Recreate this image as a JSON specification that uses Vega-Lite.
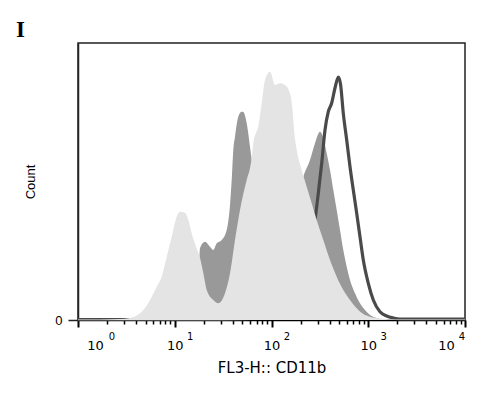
{
  "$schema": "https://vega.github.io/schema/vega-lite/v6.json",
  "width": 387,
  "height": 277,
  "autosize": {"type": "none"},
  "padding": {"left": 78, "top": 43, "right": 13, "bottom": 74},
  "background": "white",
  "config": {"view": {"stroke": "#222", "strokeWidth": 1.5}},
  "title": {"text": "I", "anchor": "start", "frame": "group", "font": "Liberation Serif", "fontSize": 23, "fontWeight": "bold", "color": "#000", "dx": -62, "dy": 22, "offset": 5, "baseline": "alphabetic"},
  "datasets": {
    "L": [
      {"x": 1, "count": 0.5}, {"x": 1.688, "count": 0.5}, {"x": 2.717, "count": 1}, {"x": 3.447, "count": 2},
      {"x": 4.373, "count": 6.7}, {"x": 4.927, "count": 12}, {"x": 5.548, "count": 20}, {"x": 6.507, "count": 33.3},
      {"x": 7.329, "count": 43.3}, {"x": 8.256, "count": 63.3}, {"x": 9.3, "count": 83.3}, {"x": 10.47, "count": 103.3},
      {"x": 11.33, "count": 108.3}, {"x": 12.76, "count": 107.3}, {"x": 13.81, "count": 100}, {"x": 14.97, "count": 86.7},
      {"x": 16.58, "count": 73.3}, {"x": 18.24, "count": 62}, {"x": 19.73, "count": 47}, {"x": 21.39, "count": 30},
      {"x": 25.03, "count": 20}, {"x": 28.2, "count": 16.7}, {"x": 33.07, "count": 26.7}, {"x": 37.25, "count": 46.7},
      {"x": 41.95, "count": 80}, {"x": 47.24, "count": 110}, {"x": 55.42, "count": 140}, {"x": 59.94, "count": 152},
      {"x": 62.42, "count": 162}, {"x": 64.85, "count": 177}, {"x": 69.15, "count": 187}, {"x": 73.04, "count": 193.3},
      {"x": 79.21, "count": 216.7}, {"x": 85.67, "count": 240}, {"x": 96.5, "count": 248.3}, {"x": 108.7, "count": 235},
      {"x": 122.4, "count": 236.7}, {"x": 137.9, "count": 235}, {"x": 155.3, "count": 226.7}, {"x": 162.9, "count": 215},
      {"x": 172.9, "count": 185}, {"x": 182.2, "count": 170}, {"x": 205.2, "count": 150}, {"x": 231.1, "count": 133.3},
      {"x": 260.3, "count": 116.7}, {"x": 293.2, "count": 100}, {"x": 343.1, "count": 80}, {"x": 402.4, "count": 60},
      {"x": 471.9, "count": 43.3}, {"x": 552.2, "count": 30}, {"x": 647.7, "count": 20}, {"x": 759.6, "count": 11.7},
      {"x": 888.9, "count": 6}, {"x": 1043, "count": 3.3}, {"x": 1322, "count": 1.5}, {"x": 1890, "count": 0.5},
      {"x": 10000, "count": 0.5}
    ],
    "D": [
      {"x": 1, "count": 0.5}, {"x": 17.39, "count": 0.5}, {"x": 18.24, "count": 72}, {"x": 20.55, "count": 78.3},
      {"x": 23.13, "count": 73.3}, {"x": 25.03, "count": 70}, {"x": 27.14, "count": 76.7}, {"x": 30.57, "count": 80},
      {"x": 34.43, "count": 90}, {"x": 37.25, "count": 115}, {"x": 38.78, "count": 140}, {"x": 40.29, "count": 170},
      {"x": 41.95, "count": 183.3}, {"x": 45.37, "count": 203.3}, {"x": 49.2, "count": 208.3}, {"x": 51.11, "count": 208},
      {"x": 55.42, "count": 196.7}, {"x": 59.94, "count": 173.3}, {"x": 62.42, "count": 160}, {"x": 67.53, "count": 135},
      {"x": 79.77, "count": 105}, {"x": 96.5, "count": 85}, {"x": 122.4, "count": 80}, {"x": 155.3, "count": 95},
      {"x": 183.5, "count": 120}, {"x": 213.2, "count": 143.3}, {"x": 250, "count": 160}, {"x": 281.6, "count": 176.7},
      {"x": 317.2, "count": 188.3}, {"x": 343.1, "count": 182}, {"x": 371.9, "count": 166.7}, {"x": 402.4, "count": 150},
      {"x": 435.3, "count": 130}, {"x": 471.9, "count": 110}, {"x": 510.5, "count": 90}, {"x": 552.2, "count": 70},
      {"x": 598.8, "count": 53.3}, {"x": 647.7, "count": 40}, {"x": 729.5, "count": 26.7}, {"x": 821.6, "count": 16.7},
      {"x": 925.5, "count": 10}, {"x": 1043, "count": 5}, {"x": 1174, "count": 2.5}, {"x": 1490, "count": 0.5},
      {"x": 10000, "count": 0.5}
    ],
    "K": [
      {"x": 1, "count": 0.5}, {"x": 18.24, "count": 0.5}, {"x": 47.24, "count": 1}, {"x": 96.5, "count": 4},
      {"x": 155.3, "count": 15}, {"x": 222, "count": 50}, {"x": 262.2, "count": 80}, {"x": 281.6, "count": 100},
      {"x": 304.6, "count": 126.7}, {"x": 330.3, "count": 156.7}, {"x": 357.3, "count": 190}, {"x": 386.5, "count": 208.3},
      {"x": 419, "count": 217}, {"x": 453.2, "count": 232}, {"x": 490.3, "count": 243}, {"x": 516.7, "count": 236},
      {"x": 552.2, "count": 206.7}, {"x": 598.8, "count": 180}, {"x": 647.7, "count": 153.3}, {"x": 700.6, "count": 130},
      {"x": 759.6, "count": 106.7}, {"x": 821.6, "count": 83.3}, {"x": 888.9, "count": 60}, {"x": 1001.2, "count": 36.7},
      {"x": 1127.6, "count": 20}, {"x": 1322, "count": 8.3}, {"x": 1551, "count": 4}, {"x": 1815, "count": 2},
      {"x": 2129, "count": 1}, {"x": 10000, "count": 1}
    ]
  },
  "encoding": {
    "y": {
      "field": "count", "type": "quantitative",
      "scale": {"domain": [0, 277], "nice": false},
      "axis": {"title": "Count", "values": [0], "tickSize": 10, "labelPadding": 6, "grid": false,
        "domainColor": "#222", "domainWidth": 1.5, "tickColor": "#222", "tickWidth": 1.5,
        "labelFont": "Liberation Sans", "labelFontSize": 13, "labelColor": "#000",
        "titleFont": "Liberation Sans", "titleFontSize": 13, "titleFontWeight": "normal", "titleColor": "#000", "titlePadding": 17}
    }
  },
  "layer": [
    {
      "data": {"name": "D"},
      "mark": {"type": "area", "color": "#999999", "interpolate": "monotone"},
      "encoding": {
        "x": {"field": "x", "type": "quantitative", "scale": {"type": "log", "domain": [1, 10000], "nice": false},
          "axis": {"orient": "bottom", "values": [2,3,4,5,6,7,8,9,20,30,40,50,60,70,80,90,200,300,400,500,600,700,800,900,2000,3000,4000,5000,6000,7000,8000,9000],
            "labels": false, "tickSize": 4, "tickWidth": 1.5, "tickColor": "#000", "domain": false, "title": null, "grid": false}}
      }
    },
    {
      "data": {"name": "K"},
      "mark": {"type": "line", "color": "#4a4a4a", "strokeWidth": 3.2, "interpolate": "monotone"},
      "encoding": {
        "x": {"field": "x", "type": "quantitative", "scale": {"type": "log", "domain": [1, 10000], "nice": false},
          "axis": {"orient": "bottom", "values": [1, 10, 100, 1000, 10000],
            "labelExpr": "'' + round(log(datum.value)/LN10)",
            "ticks": false, "tickSize": 0, "domain": false, "grid": false, "title": null,
            "labelFlush": false, "labelBound": false, "labelOverlap": false,
            "labelFont": "DejaVu Sans", "labelFontSize": 10, "labelColor": "#000",
            "labelBaseline": "alphabetic", "labelAlign": "center", "labelPadding": 19,
            "labelOffset": {"condition": [{"test": "datum.value == 1", "value": 33.5}, {"test": "datum.value == 10000", "value": -3.5}], "value": 15}}}
      }
    },
    {
      "data": {"name": "L"},
      "mark": {"type": "area", "color": "#e4e4e4", "interpolate": "monotone"},
      "encoding": {
        "x": {"field": "x", "type": "quantitative", "scale": {"type": "log", "domain": [1, 10000], "nice": false},
          "axis": {"orient": "bottom", "values": [1, 10, 100, 1000, 10000],
            "labelExpr": "'10'",
            "labelFlush": false, "labelBound": false, "labelOverlap": false,
            "tickSize": 7, "tickWidth": 2, "tickColor": "#000", "domainColor": "#000", "domainWidth": 1.5,
            "labelFont": "DejaVu Sans", "labelFontSize": 13, "labelColor": "#000",
            "labelBaseline": "alphabetic", "labelAlign": "center", "labelPadding": 22,
            "labelOffset": {"condition": [{"test": "datum.value == 1", "value": 17}, {"test": "datum.value == 10000", "value": -19}], "value": 0},
            "title": "FL3-H:: CD11b", "titleFont": "DejaVu Sans", "titleFontSize": 15, "titleFontWeight": "normal", "titleColor": "#000", "titlePadding": 8, "grid": false}}
      }
    }
  ],
  "resolve": {"axis": {"x": "independent"}}
}
